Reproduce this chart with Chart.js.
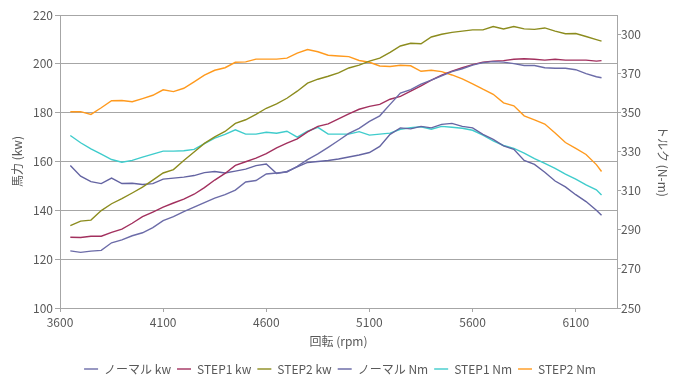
<!DOCTYPE html>
<html>
<head>
<meta charset="utf-8">
<script src="https://cdn.jsdelivr.net/npm/chart.js@4/dist/chart.umd.min.js"></script>
<style>
  html, body { margin: 0; padding: 0; background: #fff; }
  canvas { display: block; }
</style>
</head>
<body>
<canvas id="powerChart" width="680" height="387"></canvas>
<script>
const rpm = [3650, 3700, 3750, 3800, 3850, 3900, 3950, 4000, 4050, 4100,
    4150, 4200, 4250, 4300, 4350, 4400, 4450, 4500, 4550, 4600,
    4650, 4700, 4750, 4800, 4850, 4900, 4950, 5000, 5050, 5100,
    5150, 5200, 5250, 5300, 5350, 5400, 5450, 5500, 5550, 5600,
    5650, 5700, 5750, 5800, 5850, 5900, 5950, 6000, 6050, 6100,
    6150, 6200, 6225];

// kW (left axis)
const normalKw = [123.4, 122.8, 123.3, 123.6, 126.7, 127.9, 129.6, 130.8, 132.9, 135.8,
    137.4, 139.5, 141.3, 143.2, 145.0, 146.4, 148.3, 151.6, 152.2, 154.9,
    155.3, 155.7, 158.0, 160.8, 163.1, 165.8, 168.6, 171.5, 173.6, 176.4,
    178.7, 183.4, 188.0, 189.4, 191.7, 193.3, 195.1, 196.8, 198.0, 199.5,
    200.5, 200.9, 200.7, 200.1, 199.3, 199.3, 198.4, 198.2, 198.2, 197.6,
    196.0, 194.7, 194.3];
const step1Kw = [129.0, 128.9, 129.4, 129.4, 131.0, 132.3, 134.7, 137.4, 139.3, 141.3,
    143.0, 144.6, 146.6, 149.3, 152.4, 155.1, 158.4, 159.9, 161.4, 163.2,
    165.6, 167.5, 169.3, 172.1, 174.4, 175.4, 177.5, 179.5, 181.4, 182.6,
    183.4, 185.5, 186.7, 188.8, 191.0, 193.3, 195.4, 197.0, 198.4, 199.7,
    200.7, 201.1, 201.3, 201.9, 202.1, 201.9, 201.5, 201.9, 201.5, 201.5,
    201.5, 201.1, 201.3];
const step2Kw = [133.7, 135.6, 136.0, 139.9, 142.7, 144.8, 147.1, 149.5, 152.4, 155.3,
    156.7, 160.4, 163.9, 167.4, 170.1, 172.3, 175.6, 177.1, 179.3, 181.8,
    183.6, 185.9, 188.8, 192.1, 193.7, 194.9, 196.3, 198.3, 199.5, 201.1,
    202.3, 204.7, 207.3, 208.4, 208.2, 211.0, 212.1, 212.9, 213.4, 213.9,
    213.9, 215.3, 214.3, 215.3, 214.3, 214.1, 214.7, 213.4, 212.3, 212.4,
    211.2, 209.9, 209.3];

// N-m (right axis)
const normalNm = [322.9, 317.5, 314.7, 313.7, 316.5, 313.7, 313.9, 313.2, 313.7, 316.0,
    316.5, 317.0, 317.8, 319.3, 319.9, 319.1, 320.1, 321.1, 322.9, 323.7,
    318.8, 319.9, 322.2, 324.5, 325.0, 325.5, 326.3, 327.3, 328.3, 329.6,
    332.7, 338.9, 342.2, 341.7, 343.0, 342.2, 344.0, 344.5, 343.0, 342.2,
    338.9, 336.3, 333.0, 331.2, 325.5, 323.5, 319.5, 315.0, 312.0, 308.0,
    304.5, 300.0, 297.5];
const step1Nm = [338.3, 334.6, 331.5, 328.8, 326.0, 324.6, 325.6, 327.2, 328.8, 330.3,
    330.3, 330.5, 331.2, 334.2, 337.0, 338.9, 341.2, 339.0, 339.0, 340.0,
    339.5, 340.5, 337.5, 340.5, 342.5, 339.0, 339.0, 339.0, 340.3, 338.5,
    339.0, 339.5, 341.5, 342.3, 342.8, 341.5, 343.0, 342.5, 342.0, 341.0,
    338.5, 335.5, 333.2, 331.7, 329.3, 326.5, 324.0, 321.5, 318.5, 316.0,
    313.0, 310.5, 307.8];
const step2Nm = [350.5, 350.5, 349.1, 352.5, 356.1, 356.2, 355.6, 357.2, 358.9, 361.7,
    360.8, 362.5, 365.8, 369.2, 371.7, 373.0, 375.8, 376.0, 377.4, 377.4,
    377.4, 377.9, 380.5, 382.3, 381.2, 379.4, 379.0, 378.7, 376.7, 375.8,
    373.9, 373.6, 374.3, 374.0, 371.2, 371.7, 371.0, 369.3, 367.3, 364.8,
    362.0, 359.4, 355.0, 353.5, 348.4, 346.3, 344.2, 339.6, 334.7, 331.7,
    328.6, 323.4, 319.9];

const xTicks = [3600, 4100, 4600, 5100, 5600, 6100];
const kwTicks = [100, 120, 140, 160, 180, 200, 220];
const nmTicks = [250, 270, 290, 310, 330, 350, 370, 390];
const nmTickLabels = ['250', '270', '290', '310', '330', '350', '370', '300'];

const textColor = '#595959';
const gridColor = '#A6A6A6';
const font = { family: "'Noto Sans CJK JP', 'Noto Sans', sans-serif", size: 12 };

function toPoints(values) {
    return rpm.map((r, i) => ({ x: r, y: values[i] }));
}

function series(label, values, color, axis) {
    return {
        label: label,
        data: toPoints(values),
        borderColor: color,
        backgroundColor: color,
        borderWidth: 1.4,
        pointRadius: 0,
        pointStyle: 'line',
        fill: false,
        tension: 0,
        yAxisID: axis
    };
}

const ctx = document.getElementById('powerChart');
new Chart(ctx, {
    type: 'line',
    data: {
        datasets: [
            series('ノーマル kw', normalKw, '#6C6CA8', 'y'),
            series('STEP1 kw', step1Kw, '#A2305E', 'y'),
            series('STEP2 kw', step2Kw, '#8C8C1E', 'y'),
            series('ノーマル Nm', normalNm, '#6464A2', 'y1'),
            series('STEP1 Nm', step1Nm, '#3FCCCC', 'y1'),
            series('STEP2 Nm', step2Nm, '#FF9A1E', 'y1')
        ]
    },
    options: {
        responsive: false,
        animation: false,
        devicePixelRatio: 1,
        layout: { padding: { top: 15, bottom: 2, left: 0, right: 0 } },
        plugins: {
            legend: {
                position: 'bottom',
                labels: {
                    usePointStyle: true,
                    pointStyleWidth: 14,
                    padding: 6,
                    color: textColor,
                    font: font
                }
            },
            tooltip: { enabled: false }
        },
        scales: {
            x: {
                type: 'linear',
                min: 3600,
                max: 6300,
                afterBuildTicks: scale => { scale.ticks = xTicks.map(v => ({ value: v })); },
                afterFit: scale => { scale.height = 49; },
                grid: { drawOnChartArea: false, color: gridColor, tickLength: 4 },
                border: { color: gridColor },
                ticks: {
                    color: textColor,
                    font: font,
                    padding: 3,
                    maxRotation: 0,
                    autoSkip: false,
                    callback: value => String(value)
                },
                title: { display: true, text: '回転 (rpm)', color: textColor, font: font, padding: { top: 4, bottom: 8 } }
            },
            y: {
                position: 'left',
                min: 100,
                max: 220,
                afterBuildTicks: scale => { scale.ticks = kwTicks.map(v => ({ value: v })); },
                afterFit: scale => { scale.width = 60; },
                grid: { color: gridColor, tickLength: 5 },
                border: { color: gridColor },
                ticks: { color: textColor, font: font, padding: 2 },
                title: { display: true, text: '馬力 (kw)', color: textColor, font: font, padding: { top: 10, bottom: 4 } }
            },
            y1: {
                position: 'right',
                min: 250,
                max: 400,
                afterBuildTicks: scale => { scale.ticks = nmTicks.map(v => ({ value: v })); },
                afterFit: scale => { scale.width = 63; },
                grid: { drawOnChartArea: false, color: gridColor, tickLength: 4 },
                border: { color: gridColor },
                ticks: {
                    color: textColor,
                    font: font,
                    padding: 0,
                    callback: (value, index) => nmTickLabels[index]
                },
                title: { display: true, text: 'トルク (N-m)', color: textColor, font: font, padding: { top: 10, bottom: 4 } }
            }
        }
    }
});
</script>
</body>
</html>
